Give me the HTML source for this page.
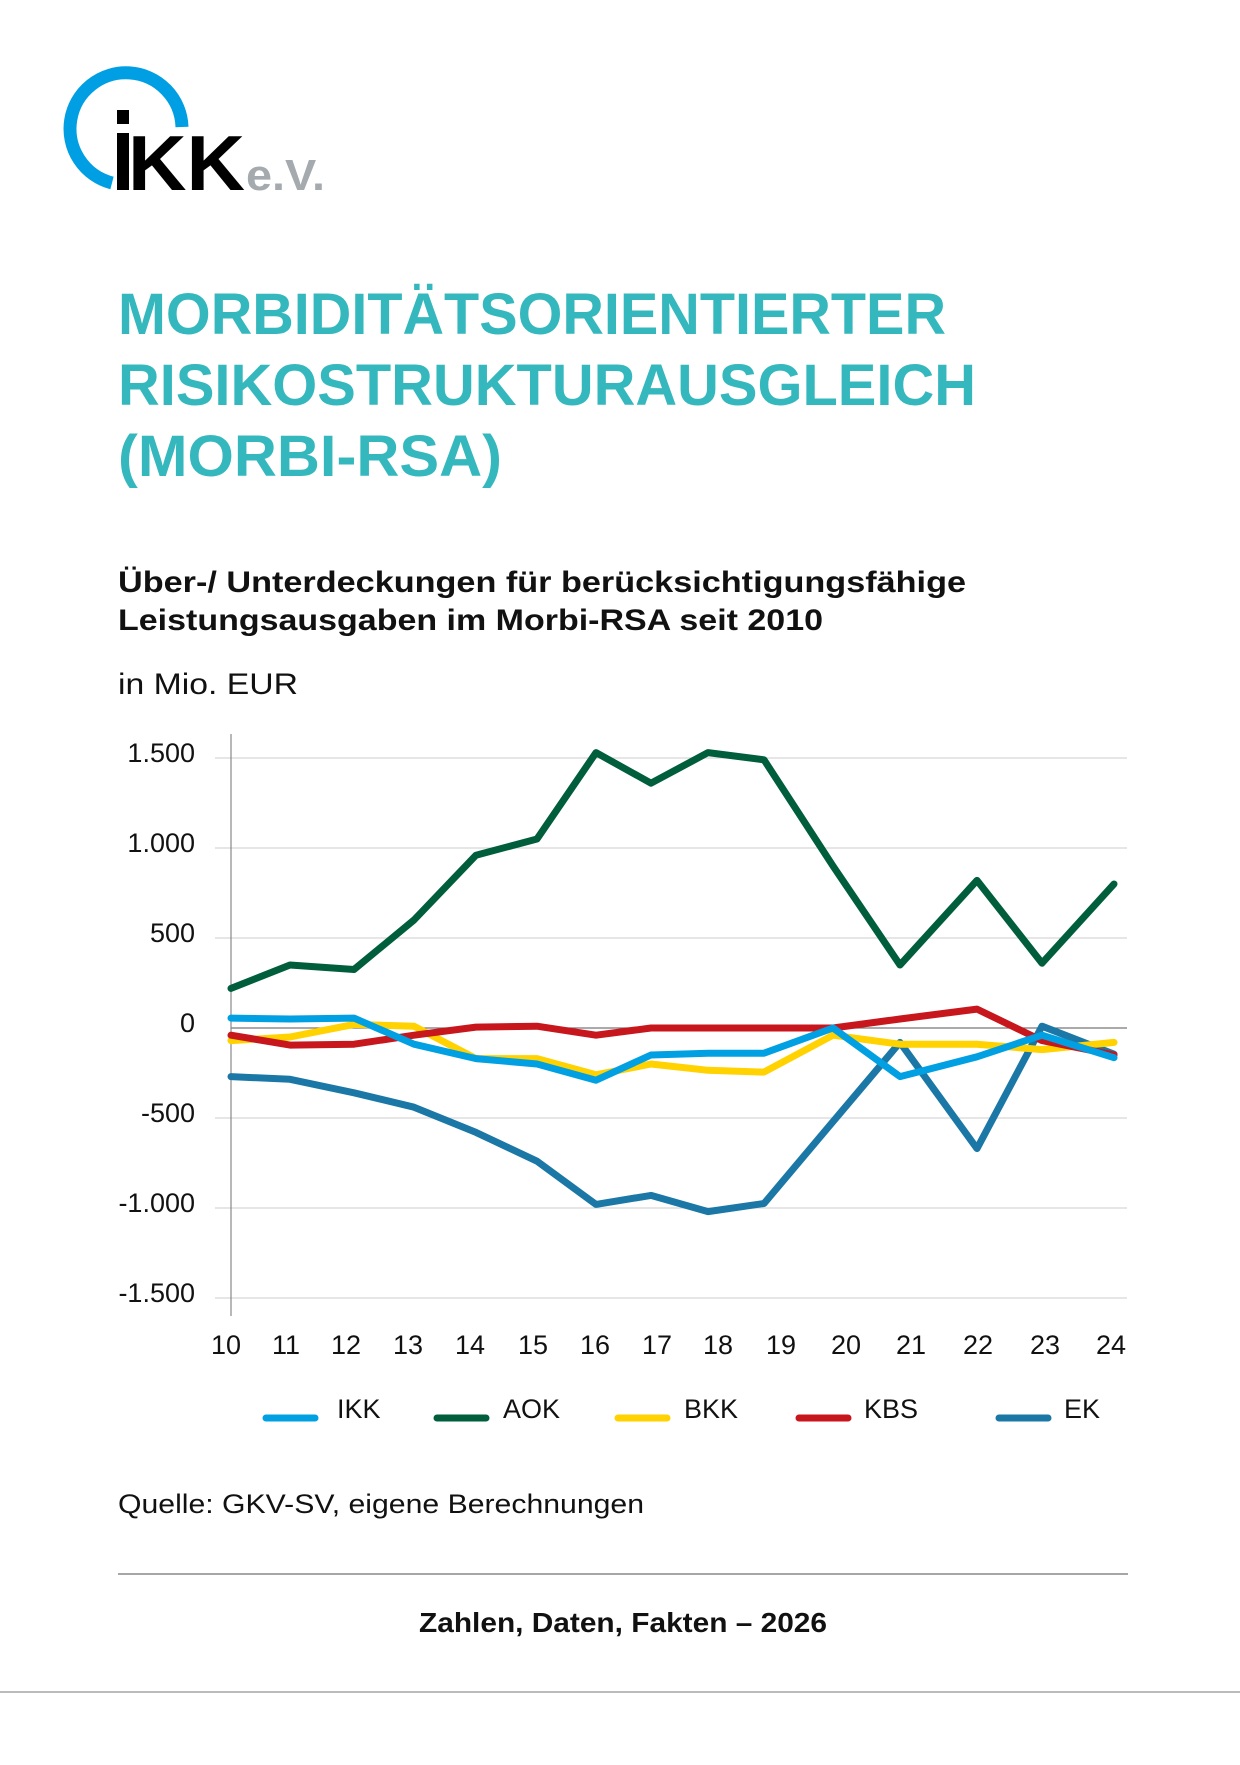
<!DOCTYPE html>
<html><head><meta charset="utf-8"><style>
html,body{margin:0;padding:0;background:#fff}
body{width:1240px;height:1765px;position:relative;overflow:hidden;font-family:"Liberation Sans",sans-serif}
</style></head><body>
<svg width="1240" height="1765" viewBox="0 0 1240 1765" xmlns="http://www.w3.org/2000/svg" style="position:absolute;left:0;top:0">
<!-- logo -->
<path d="M112 183 A56 56 0 1 1 182 127" fill="none" stroke="#009fe3" stroke-width="13"/>
<rect x="117" y="110" width="12" height="14" fill="#000"/>
<rect x="117" y="133" width="12" height="57" fill="#000"/>
<text x="128" y="190" font-size="78" font-weight="bold" fill="#000" textLength="117" lengthAdjust="spacingAndGlyphs" font-family="Liberation Sans">KK</text>
<text x="246" y="190" font-size="44" font-weight="bold" fill="#a5aaaf" textLength="79" lengthAdjust="spacingAndGlyphs" font-family="Liberation Sans">e.V.</text>
<!-- title -->
<g font-family="Liberation Sans" font-size="58" font-weight="bold" fill="#35b8bd">
<text x="118" y="334" textLength="828" lengthAdjust="spacingAndGlyphs">MORBIDITÄTSORIENTIERTER</text>
<text x="118" y="405" textLength="858" lengthAdjust="spacingAndGlyphs">RISIKOSTRUKTURAUSGLEICH</text>
<text x="118" y="476" textLength="384" lengthAdjust="spacingAndGlyphs">(MORBI-RSA)</text>
</g>
<g font-family="Liberation Sans" font-size="30" font-weight="bold" fill="#111">
<text x="118" y="592" textLength="848" lengthAdjust="spacingAndGlyphs">Über-/ Unterdeckungen für berücksichtigungsfähige</text>
<text x="118" y="630" textLength="705" lengthAdjust="spacingAndGlyphs">Leistungsausgaben im Morbi-RSA seit 2010</text>
</g>
<text x="118" y="694" font-size="30" fill="#111" font-family="Liberation Sans" textLength="180" lengthAdjust="spacingAndGlyphs">in Mio. EUR</text>
<!-- grid -->
<g stroke="#d6d6d6" stroke-width="1.2">
<line x1="215" y1="758" x2="1127" y2="758"/>
<line x1="215" y1="848" x2="1127" y2="848"/>
<line x1="215" y1="938" x2="1127" y2="938"/>
<line x1="215" y1="1118" x2="1127" y2="1118"/>
<line x1="215" y1="1208" x2="1127" y2="1208"/>
<line x1="215" y1="1298" x2="1127" y2="1298"/>
</g>
<line x1="231" y1="1028" x2="1127" y2="1028" stroke="#777" stroke-width="1.2"/>
<line x1="231" y1="734" x2="231" y2="1316" stroke="#888" stroke-width="1.2"/>
<g font-family="Liberation Sans" font-size="27" fill="#111" text-anchor="end">
<text x="195" y="762">1.500</text>
<text x="195" y="852">1.000</text>
<text x="195" y="942">500</text>
<text x="195" y="1032">0</text>
<text x="195" y="1122">-500</text>
<text x="195" y="1212">-1.000</text>
<text x="195" y="1302">-1.500</text>
</g>
<g font-family="Liberation Sans" font-size="27" fill="#111" text-anchor="middle">
<text x="226" y="1354">10</text><text x="286" y="1354">11</text><text x="346" y="1354">12</text><text x="408" y="1354">13</text><text x="470" y="1354">14</text><text x="533" y="1354">15</text><text x="595" y="1354">16</text><text x="657" y="1354">17</text><text x="718" y="1354">18</text><text x="781" y="1354">19</text><text x="846" y="1354">20</text><text x="911" y="1354">21</text><text x="978" y="1354">22</text><text x="1045" y="1354">23</text><text x="1111" y="1354">24</text>
</g>
<g fill="none" stroke-width="7" stroke-linejoin="round" stroke-linecap="round">
<polyline stroke="#1a77a6" points="231,1076.6 290,1079.3 354,1092.8 414,1107.2 476,1132.4 537,1161.2 596,1204.4 651,1195.4 708,1211.6 764,1203.5 833,1121.6 900,1042.4 977,1148.6 1042,1026.2 1114,1054.1"/>
<polyline stroke="#005e3c" points="231,988.4 290,965 354,969.5 414,920 476,855.2 537,839 596,752.6 651,783.2 708,752.6 764,759.8 833,866 900,965 977,880.4 1042,963.2 1114,884"/>
<polyline stroke="#ffd200" points="231,1040.6 290,1037 354,1024.4 414,1026.2 476,1058.6 537,1058.6 596,1074.8 651,1064 708,1070.3 764,1072.1 833,1035.2 900,1044.2 977,1044.2 1042,1049.6 1114,1042.4"/>
<polyline stroke="#c8161d" points="231,1035.2 290,1045.1 354,1044.2 414,1035.2 476,1027.1 537,1026.2 596,1035.2 651,1028 708,1028 764,1028 833,1028 900,1019 977,1009.1 1042,1040.6 1114,1055"/>
<polyline stroke="#00a0e3" points="231,1018.1 290,1019 354,1018.1 414,1044.2 476,1058.6 537,1064 596,1080.2 651,1055 708,1053.2 764,1053.2 833,1028 900,1076.6 977,1056.8 1042,1035.2 1114,1057.7"/>
</g>
<!-- legend -->
<g stroke-width="7" stroke-linecap="round">
<line x1="266" y1="1418" x2="315" y2="1418" stroke="#00a0e3"/>
<line x1="437" y1="1418" x2="486" y2="1418" stroke="#005e3c"/>
<line x1="618" y1="1418" x2="667" y2="1418" stroke="#ffd200"/>
<line x1="799" y1="1418" x2="848" y2="1418" stroke="#c8161d"/>
<line x1="999" y1="1418" x2="1048" y2="1418" stroke="#1a77a6"/>
</g>
<g font-family="Liberation Sans" font-size="27" fill="#111">
<text x="337" y="1418">IKK</text><text x="503" y="1418">AOK</text><text x="684" y="1418">BKK</text><text x="864" y="1418">KBS</text><text x="1064" y="1418">EK</text>
</g>
<text x="118" y="1513" font-size="27" fill="#111" font-family="Liberation Sans" textLength="526" lengthAdjust="spacingAndGlyphs">Quelle: GKV-SV, eigene Berechnungen</text>
<line x1="118" y1="1574" x2="1128" y2="1574" stroke="#888" stroke-width="1.5"/>
<text x="419" y="1632" font-size="28" font-weight="bold" fill="#111" font-family="Liberation Sans" textLength="408" lengthAdjust="spacingAndGlyphs">Zahlen, Daten, Fakten – 2026</text>
<line x1="0" y1="1692" x2="1240" y2="1692" stroke="#bbb" stroke-width="2"/>
</svg>
</body></html>
